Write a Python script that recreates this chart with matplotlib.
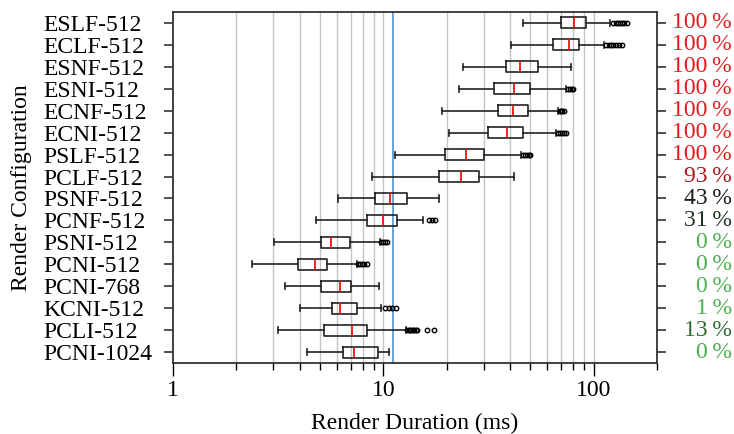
import matplotlib
matplotlib.use("Agg")
import matplotlib.pyplot as plt
from matplotlib.ticker import LogLocator, FixedLocator, NullFormatter

plt.rcParams['font.family'] = ['Liberation Serif', 'DejaVu Serif']

configs = ["ESLF-512", "ECLF-512", "ESNF-512", "ESNI-512", "ECNF-512", "ECNI-512",
           "PSLF-512", "PCLF-512", "PSNF-512", "PCNF-512", "PSNI-512", "PCNI-512",
           "PCNI-768", "KCNI-512", "PCLI-512", "PCNI-1024"]
whis_lo = [46.0, 40.5, 23.8, 22.8, 19.0, 20.5, 11.3, 8.84, 6.11, 4.77, 3.01, 2.37, 3.40, 4.03, 3.15, 4.34]
q1 = [69.8, 64.3, 38.5, 33.4, 35.2, 31.6, 19.7, 18.3, 9.13, 8.37, 5.04, 3.93, 5.07, 5.68, 5.24, 6.45]
median = [80.9, 76.6, 44.8, 41.8, 41.2, 38.6, 24.7, 23.3, 10.7, 10.0, 5.66, 4.72, 6.22, 6.25, 7.12, 7.26]
q3 = [91.7, 85.3, 54.4, 50.0, 48.9, 46.2, 30.1, 28.4, 12.96, 11.6, 6.92, 5.38, 7.04, 7.47, 8.37, 9.40]
whis_hi = [120.0, 112.0, 78.3, 74.0, 68.0, 66.0, 45.0, 41.6, 18.3, 15.5, 9.6, 7.5, 9.54, 9.78, 12.8, 10.6]
fliers = [
    [124, 127, 130, 133, 136, 140, 144],
    [115, 118, 121, 124, 128, 132, 137],
    [],
    [75.5, 77, 78.5, 80],
    [69, 70, 71, 72],
    [67.5, 69, 70.5, 72, 74],
    [46, 47, 48, 49, 50],
    [],
    [],
    [16.4, 17.0, 17.6],
    [9.8, 10.0, 10.2, 10.4],
    [7.6, 7.75, 7.9, 8.1, 8.4],
    [],
    [10.2, 10.6, 11.0, 11.5],
    [13.0, 13.2, 13.4, 13.6, 13.8, 14.0, 14.3, 14.5, 16.1, 17.5],
    [],
]
percent = [100, 100, 100, 100, 100, 100, 100, 93, 43, 31, 0, 0, 0, 1, 13, 0]
percent_colors = ['#e31a1c', '#e31a1c', '#e31a1c', '#e31a1c', '#e31a1c', '#e31a1c', '#e31a1c',
                  '#a8191b', '#1a1a1a', '#1e3521', '#4cae4f', '#4cae4f', '#4cae4f', '#4cae4f',
                  '#2e6b32', '#4cae4f']
frame_budget_ms = 1000.0 / 90.0
x_ticks = [1, 10, 100]

fig = plt.figure(figsize=(7.34, 4.34), dpi=100)
ax = fig.add_axes([173/734, 1 - 363/434, (657-173)/734, (363-12)/434])

stats = []
for i, name in enumerate(configs):
    stats.append(dict(label=name, whislo=whis_lo[i], q1=q1[i], med=median[i],
                      q3=q3[i], whishi=whis_hi[i], fliers=fliers[i]))

positions = list(range(len(configs)))
ax.bxp(stats, positions=positions, orientation='horizontal', widths=0.5,
       showfliers=True, capwidths=0.28,
       boxprops=dict(color='#222222', linewidth=1.2),
       whiskerprops=dict(color='#222222', linewidth=1.2),
       capprops=dict(color='#222222', linewidth=1.2),
       medianprops=dict(color='#ee1111', linewidth=1.3),
       flierprops=dict(marker='o', markersize=3.2, markerfacecolor='none',
                       markeredgecolor='black', markeredgewidth=1.0))

ax.set_xscale('log')
ax.set_xlim(1, 200)
ax.set_ylim(len(configs) - 0.5, -0.5)

ax.xaxis.set_major_locator(FixedLocator(x_ticks))
ax.set_xticklabels([str(t) for t in x_ticks])
ax.xaxis.set_minor_locator(LogLocator(base=10, subs=range(2, 10)))
ax.xaxis.set_minor_formatter(NullFormatter())

# grid lines
for dec in [1, 10, 100]:
    for s in range(1, 10):
        v = dec * s
        if 1 < v < 200:
            ax.axvline(v, color='#c4c4c4', linewidth=1.0, zorder=0)
ax.axvline(frame_budget_ms, color='#5b9bd5', linewidth=1.3, zorder=1)

ax.set_yticks(positions)
ax.set_yticklabels(configs, fontsize=17)
tick_len_pt = 6.5
label_left_px = 43
pad_pt = (173 - label_left_px) * 0.72 - tick_len_pt
ax.tick_params(axis='y', which='both', direction='out', length=tick_len_pt, width=1.2,
               left=True, right=True, pad=pad_pt, colors='#333333', labelcolor='black')
for lab in ax.get_yticklabels():
    lab.set_horizontalalignment('left')
ax.tick_params(axis='x', which='major', direction='out', length=9, width=1.0,
               labelsize=17, pad=3)
ax.tick_params(axis='x', which='minor', direction='out', length=5, width=1.0)

for sp in ax.spines.values():
    sp.set_color('#333333')
    sp.set_linewidth(1.3)

ax.set_xlabel('Render Duration (ms)', fontsize=17, labelpad=9)
fig.text(22/734, 0.5 * ((1 - 363/434) + (1 - 12/434)), 'Render Configuration',
         rotation=90, ha='center', va='center', fontsize=17)

trans = matplotlib.transforms.blended_transform_factory(fig.transFigure, ax.transData)
for i, p in enumerate(percent):
    ax.text(732/734, positions[i], f"{p}\u2009%", transform=trans, ha='right', va='center',
            fontsize=17, color=percent_colors[i], clip_on=False)

fig.savefig('out.png', dpi=100)
